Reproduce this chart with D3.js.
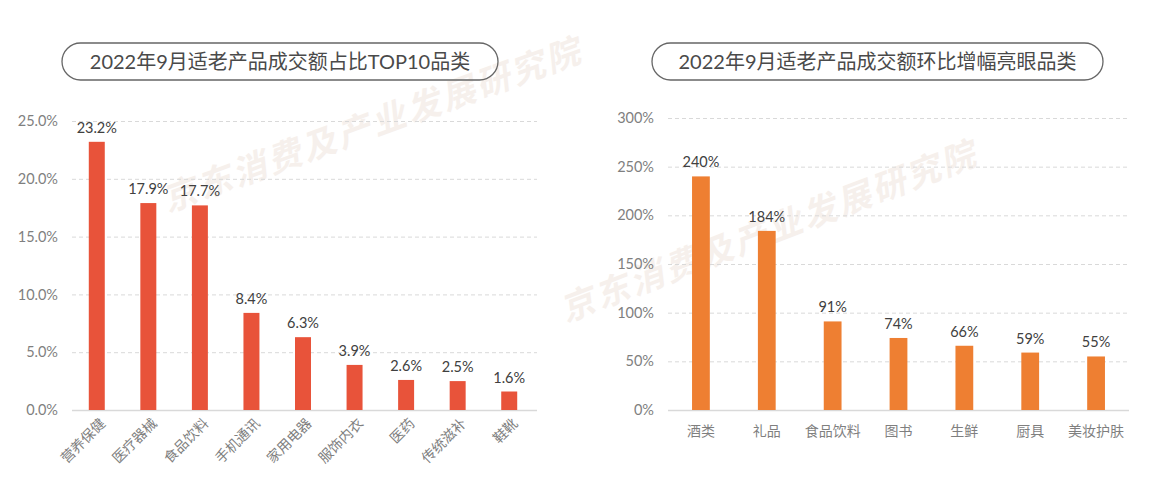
<!DOCTYPE html>
<html>
<head>
<meta charset="utf-8">
<script src="https://cdn.jsdelivr.net/npm/d3@7"></script>
<style>
  body { margin: 0; background: #fff; }
  svg text { font-family: Lato, "Noto Sans CJK SC", sans-serif; }
</style>
</head>
<body>
<svg id="chart" width="1159" height="491"></svg>
<script>
// 左图：成交额占比 TOP10
const leftTitle = "2022年9月适老产品成交额占比TOP10品类";
const leftCats = ["营养保健", "医疗器械", "食品饮料", "手机通讯", "家用电器", "服饰内衣", "医药", "传统滋补", "鞋靴"];
const leftValues = [23.2, 17.9, 17.7, 8.4, 6.3, 3.9, 2.6, 2.5, 1.6];
const leftTicks = [0, 5, 10, 15, 20, 25];

// 右图：环比增幅
const rightTitle = "2022年9月适老产品成交额环比增幅亮眼品类";
const rightCats = ["酒类", "礼品", "食品饮料", "图书", "生鲜", "厨具", "美妆护肤"];
const rightValues = [240, 184, 91, 74, 66, 59, 55];
const rightTicks = [0, 50, 100, 150, 200, 250, 300];

const watermark = "京东消费及产业发展研究院";

const svg = d3.select("#chart");

// 水印
const wm = svg.append("g");
[[168, 212, -20], [566, 322, -21]].forEach(([x, y, a]) => {
  wm.append("text")
    .attr("transform", `translate(${x},${y}) rotate(${a})`)
    .attr("font-size", 34)
    .attr("font-weight", "bold")
    .attr("font-style", "italic")
    .attr("letter-spacing", 3)
    .attr("fill", "#f6f0ec")
    .text(watermark);
});

function drawChart(opt) {
  const g = svg.append("g");

  // 标题框
  g.append("rect")
    .attr("x", opt.pill[0]).attr("y", 43)
    .attr("width", opt.pill[1] - opt.pill[0]).attr("height", 37)
    .attr("rx", 18.5)
    .attr("fill", "none")
    .attr("stroke", "#666")
    .attr("stroke-width", 1.3);
  g.append("text")
    .attr("x", (opt.pill[0] + opt.pill[1]) / 2).attr("y", 62)
    .attr("dy", "0.35em")
    .attr("text-anchor", "middle")
    .attr("font-size", 20)
    .attr("fill", "#4a4a4a")
    .text(opt.title);

  const x = d3.scaleBand()
    .domain(opt.cats)
    .range(opt.xRange)
    .paddingInner(opt.pad)
    .paddingOuter(opt.pad / 2);
  const y = d3.scaleLinear()
    .domain([0, d3.max(opt.ticks)])
    .range([410, opt.yTop]);

  // 网格线 + y 轴
  const yAxis = g.append("g")
    .attr("transform", `translate(${opt.grid[0]},0)`)
    .call(d3.axisLeft(y)
      .tickValues(opt.ticks)
      .tickFormat(opt.fmt)
      .tickSize(-(opt.grid[1] - opt.grid[0]))
      .tickPadding(14));
  yAxis.select(".domain").remove();
  yAxis.selectAll(".tick line")
    .attr("stroke", "#d9d9d9")
    .attr("stroke-dasharray", d => d === 0 ? null : "4,3")
    .attr("stroke-width", d => d === 0 ? 1.5 : 1);
  yAxis.selectAll(".tick text")
    .attr("font-size", 14.5)
    .attr("fill", "#7f7f7f");

  // 柱子
  g.selectAll("rect.bar")
    .data(opt.values)
    .join("rect")
    .attr("class", "bar")
    .attr("x", (d, i) => x(opt.cats[i]))
    .attr("width", x.bandwidth())
    .attr("y", d => y(d))
    .attr("height", d => y(0) - y(d))
    .attr("fill", opt.color);

  // 数值标签
  g.selectAll("text.val")
    .data(opt.values)
    .join("text")
    .attr("class", "val")
    .attr("x", (d, i) => x(opt.cats[i]) + x.bandwidth() / 2)
    .attr("y", d => y(d) - 9)
    .attr("text-anchor", "middle")
    .attr("font-size", 14.5)
    .attr("fill", "#404040")
    .text(opt.label);

  // 类别标签
  const xl = g.selectAll("text.cat")
    .data(opt.cats)
    .join("text")
    .attr("class", "cat")
    .attr("font-size", 14)
    .attr("fill", "#7f7f7f")
    .text(d => d);
  if (opt.rotate) {
    xl.attr("text-anchor", "end")
      .attr("transform", d => `translate(${x(d) + x.bandwidth() / 2 + 6},${421}) rotate(-45)`)
      .attr("dy", "0.35em");
  } else {
    xl.attr("text-anchor", "middle")
      .attr("x", d => x(d) + x.bandwidth() / 2)
      .attr("y", 431)
      .attr("dy", "0.35em");
  }
}

drawChart({
  title: leftTitle,
  pill: [62, 498],
  cats: leftCats,
  values: leftValues,
  ticks: leftTicks,
  xRange: [71, 535],
  pad: 0.69,
  grid: [72, 537],
  yTop: 121,
  color: "#e8533a",
  fmt: d => d.toFixed(1) + "%",
  label: d => d.toFixed(1) + "%",
  rotate: true
});

drawChart({
  title: rightTitle,
  pill: [652, 1103],
  cats: rightCats,
  values: rightValues,
  ticks: rightTicks,
  xRange: [668, 1129],
  pad: 0.73,
  grid: [668, 1129],
  yTop: 118,
  color: "#ee7f32",
  fmt: d => d + "%",
  label: d => d + "%",
  rotate: false
});
</script>
</body>
</html>
